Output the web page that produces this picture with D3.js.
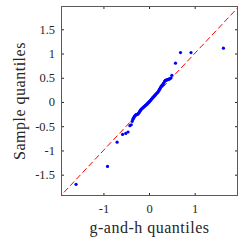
<!DOCTYPE html>
<html><head><meta charset="utf-8">
<script src="https://cdn.jsdelivr.net/npm/d3@7"></script>
<style>
html,body{margin:0;padding:0;background:#fff;}
svg{display:block;}
text{font-family:"Liberation Serif","DejaVu Serif",serif;fill:#262626;}
</style></head>
<body>
<svg id="c" width="245" height="245"></svg>
<script>
// Theoretical g-and-h quantiles (x) and sample quantiles (y)
const theoQ = [-1.60,-0.91,-0.70,-0.58,-0.51,-0.46,-0.42,-0.39,-0.37,-0.355,-0.345,-0.335,-0.325,-0.315,-0.305,-0.295,-0.285,-0.275,-0.262,-0.25,-0.238,-0.226,-0.214,-0.202,-0.19,-0.178,-0.166,-0.154,-0.142,-0.13,-0.118,-0.106,-0.094,-0.082,-0.07,-0.058,-0.046,-0.034,-0.022,-0.01,0.002,0.014,0.026,0.038,0.05,0.062,0.074,0.086,0.098,0.11,0.122,0.134,0.146,0.158,0.17,0.182,0.194,0.206,0.218,0.23,0.242,0.254,0.266,0.278,0.29,0.302,0.315,0.328,0.342,0.356,0.372,0.39,0.41,0.43,0.45,0.475,0.50,0.58,0.69,0.92,1.63];
const sampleQ = [-1.70,-1.33,-0.83,-0.67,-0.65,-0.62,-0.49,-0.47,-0.40,-0.36,-0.34,-0.32,-0.31,-0.29,-0.28,-0.27,-0.265,-0.26,-0.255,-0.25,-0.245,-0.23,-0.21,-0.19,-0.175,-0.16,-0.145,-0.135,-0.125,-0.115,-0.105,-0.095,-0.085,-0.075,-0.065,-0.055,-0.045,-0.035,-0.02,-0.01,0.00,0.015,0.025,0.04,0.055,0.065,0.08,0.095,0.105,0.115,0.13,0.14,0.155,0.17,0.18,0.19,0.205,0.22,0.24,0.26,0.28,0.30,0.32,0.335,0.35,0.36,0.38,0.40,0.43,0.44,0.45,0.455,0.46,0.47,0.475,0.49,0.55,0.80,1.02,1.02,1.11];
const xTicks = [-1, 0, 1];
const yTicks = [-1.5, -1, -0.5, 0, 0.5, 1, 1.5];
const xDomain = [-1.93, 1.95];
const yDomain = [-1.94, 1.98];
const refLine = [-2, 2];
const xLabel = "g-and-h quantiles";
const yLabel = "Sample quantiles";

const L = 61, R = 238, T = 6, B = 196;
const svg = d3.select("#c");
const x = d3.scaleLinear().domain(xDomain).range([L, R]);
const y = d3.scaleLinear().domain(yDomain).range([B, T]);

svg.append("clipPath").attr("id","clip").append("rect")
  .attr("x",L).attr("y",T).attr("width",R-L).attr("height",B-T);

const fmt = d => (d < 0 ? "-" : "") + String(Math.abs(d));

// axes (ticks inside)
const axB = d3.axisBottom(x).tickValues(xTicks).tickSize(-3).tickPadding(8).tickFormat(fmt);
const axT = d3.axisTop(x).tickValues(xTicks).tickSize(-3).tickFormat("");
const axLf = d3.axisLeft(y).tickValues(yTicks).tickSize(-3).tickPadding(6).tickFormat(fmt);
const axRt = d3.axisRight(y).tickValues(yTicks).tickSize(-3).tickFormat("");

function style(g){
  g.select(".domain").remove();
  g.selectAll(".tick line").attr("stroke","#262626").attr("stroke-width",1);
  g.selectAll("text").attr("font-size",12.5).attr("fill","#262626")
    .style("font-family",'"Liberation Serif","DejaVu Serif",serif');
}
svg.append("g").attr("transform",`translate(0,${B})`).call(axB).call(style);
svg.append("g").attr("transform",`translate(0,${T})`).call(axT).call(style);
svg.append("g").attr("transform",`translate(${L},0)`).call(axLf).call(style);
svg.append("g").attr("transform",`translate(${R},0)`).call(axRt).call(style);

// reference line
const plot = svg.append("g").attr("clip-path","url(#clip)");
plot.append("line")
  .attr("x1",x(refLine[0])).attr("y1",y(refLine[0]))
  .attr("x2",x(refLine[1])).attr("y2",y(refLine[1]))
  .attr("stroke","#ff0000").attr("stroke-width",1).attr("stroke-dasharray","6,3");

// points
plot.selectAll("circle").data(theoQ.map((v,i)=>[v,sampleQ[i]])).enter()
  .append("circle").attr("cx",d=>x(d[0])).attr("cy",d=>y(d[1])).attr("r",1.6)
  .attr("fill","#0000ff");

// frame
svg.append("rect").attr("x",L+0.5).attr("y",T+0.5).attr("width",R-L-1).attr("height",B-T-1)
  .attr("fill","none").attr("stroke","#5a5a5a").attr("stroke-width",1);

// labels
svg.append("text").attr("x",(L+R)/2).attr("y",233).attr("text-anchor","middle")
  .attr("font-size",16).attr("letter-spacing",0.5).text(xLabel);
svg.append("text").attr("transform",`translate(25,${(T+B)/2}) rotate(-90)`).attr("text-anchor","middle")
  .attr("font-size",16).attr("letter-spacing",0.5).text(yLabel);
</script>
</body></html>
